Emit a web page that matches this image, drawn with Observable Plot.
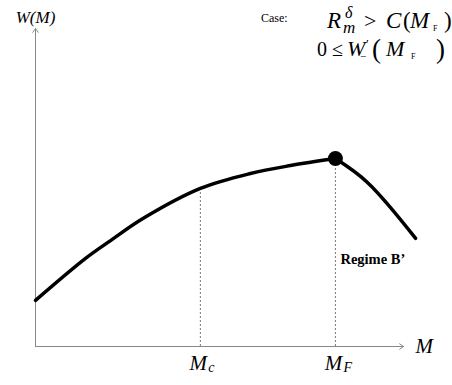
<!DOCTYPE html>
<html><head><meta charset="utf-8">
<script src="https://cdn.jsdelivr.net/npm/d3@7"></script>
<script src="https://cdn.jsdelivr.net/npm/@observablehq/plot@0.6"></script>
<style>body{margin:0;background:#fff}svg{display:block}</style>
</head><body><div id="chart"></div>
<script>
// Left branch of W(M) (M from 0 to M_F)
const leftM = [0, 1.36, 2.04, 2.93, 4.48, 5.84, 6.93, 8.15];
const leftW = [1.45, 2.77, 3.33, 4.03, 4.97, 5.44, 5.69, 5.91];
// Right branch (beyond M_F), Regime B'
const rightM = [8.15, 9.02, 10.33];
const rightW = [5.91, 5.16, 3.40];
// Marked levels
const guideNames = ["c", "F"];
const guideM = [4.48, 8.15];
const guideW = [4.97, 5.91];

const left = leftM.map((m, i) => ({M: m, W: leftW[i]}));
const right = rightM.map((m, i) => ({M: m, W: rightW[i]}));
const guides = guideM.map((m, i) => ({name: guideNames[i], M: m, W: guideW[i]}));
const axes = [{x1: 0, y1: 0, x2: 10, y2: 0}, {x1: 0, y1: 0, x2: 0, y2: 10}];

const serif = "'Liberation Serif','Times New Roman',serif";

const plot = Plot.plot({
  width: 452, height: 385, margin: 0,
  style: {fontFamily: serif, background: "#fff"},
  x: {domain: [0, 10], range: [35, 403], axis: null},
  y: {domain: [0, 10], range: [346, 28], axis: null},
  marks: [
    Plot.ruleX(guides, {x: "M", y1: 0, y2: "W", stroke: "#777", strokeWidth: 1, strokeDasharray: "2,2"}),
    Plot.arrow(axes, {x1: "x1", y1: "y1", x2: "x2", y2: "y2", stroke: "#888", strokeWidth: 1, headLength: 7, headAngle: 70}),
    Plot.line(left, {x: "M", y: "W", curve: "catmull-rom", stroke: "#000", strokeWidth: 3.5}),
    Plot.line(right, {x: "M", y: "W", curve: "catmull-rom", stroke: "#000", strokeWidth: 3.5}),
    Plot.dot(guides.filter(d => d.name === "F"), {x: "M", y: "W", r: 7.5, fill: "#000"}),
    // M labels under the axis
    Plot.text(guides, {x: "M", y: 0, text: () => "M", dy: 17, dx: -2, fontSize: 21, fontStyle: "italic", textAnchor: "middle"}),
    Plot.text(guides, {x: "M", y: 0, text: "name", dy: 21, dx: 8, fontSize: 14, fontStyle: "italic", textAnchor: "start"}),
    Plot.text(["M"], {x: 10, y: 0, text: d => d, dx: 12, fontSize: 21, fontStyle: "italic", textAnchor: "start"}),
    Plot.text(["W(M)"], {x: 0, y: 10, text: d => d, dx: 0, dy: -11, fontSize: 17, fontStyle: "italic"}),
    Plot.text(["Regime B\u2019"], {x: 8.15, y: 0, text: d => d, dx: 5, dy: -87, fontSize: 14.5, fontWeight: "bold", textAnchor: "start"})
  ]
});
document.getElementById("chart").appendChild(plot);

// Case annotation with formula (pieces placed explicitly)
const svg = d3.select(plot);
svg.append("text").attr("x", 261).attr("y", 22).attr("text-anchor", "start").attr("font-family", serif).attr("font-size", 12).text("Case:");
function piece(g, txt, x, y, size, italic) {
  g.append("tspan").attr("x", x).attr("y", y).attr("font-size", size)
    .attr("font-style", italic ? "italic" : "normal").text(txt);
}
const t1 = svg.append("text").attr("text-anchor", "start").attr("font-family", serif);
piece(t1, "R", 327, 28, 23, true);
piece(t1, "\u03B4", 345, 18, 16, true);
piece(t1, "m", 343, 33, 17, true);
piece(t1, ">", 364, 28, 22, false);
piece(t1, "C", 386, 28, 23, true);
piece(t1, "(", 403, 28, 23, false);
piece(t1, "M", 410, 28, 23, true);
piece(t1, "F", 433, 31, 8, false);
piece(t1, ")", 444, 28, 23, false);

const t2 = svg.append("text").attr("text-anchor", "start").attr("font-family", serif);
piece(t2, "0", 317, 56, 20, false);
piece(t2, "\u2264", 332, 56, 20, false);
piece(t2, "W", 347, 56, 22, true);
piece(t2, "\u2032", 366, 48, 13, false);
piece(t2, "\u2212", 360, 60, 11, false);
piece(t2, "(", 372, 58, 27, false);
piece(t2, "M", 386, 56, 22, true);
piece(t2, "F", 411, 59, 8, false);
piece(t2, ")", 436, 58, 27, false);
</script></body></html>
